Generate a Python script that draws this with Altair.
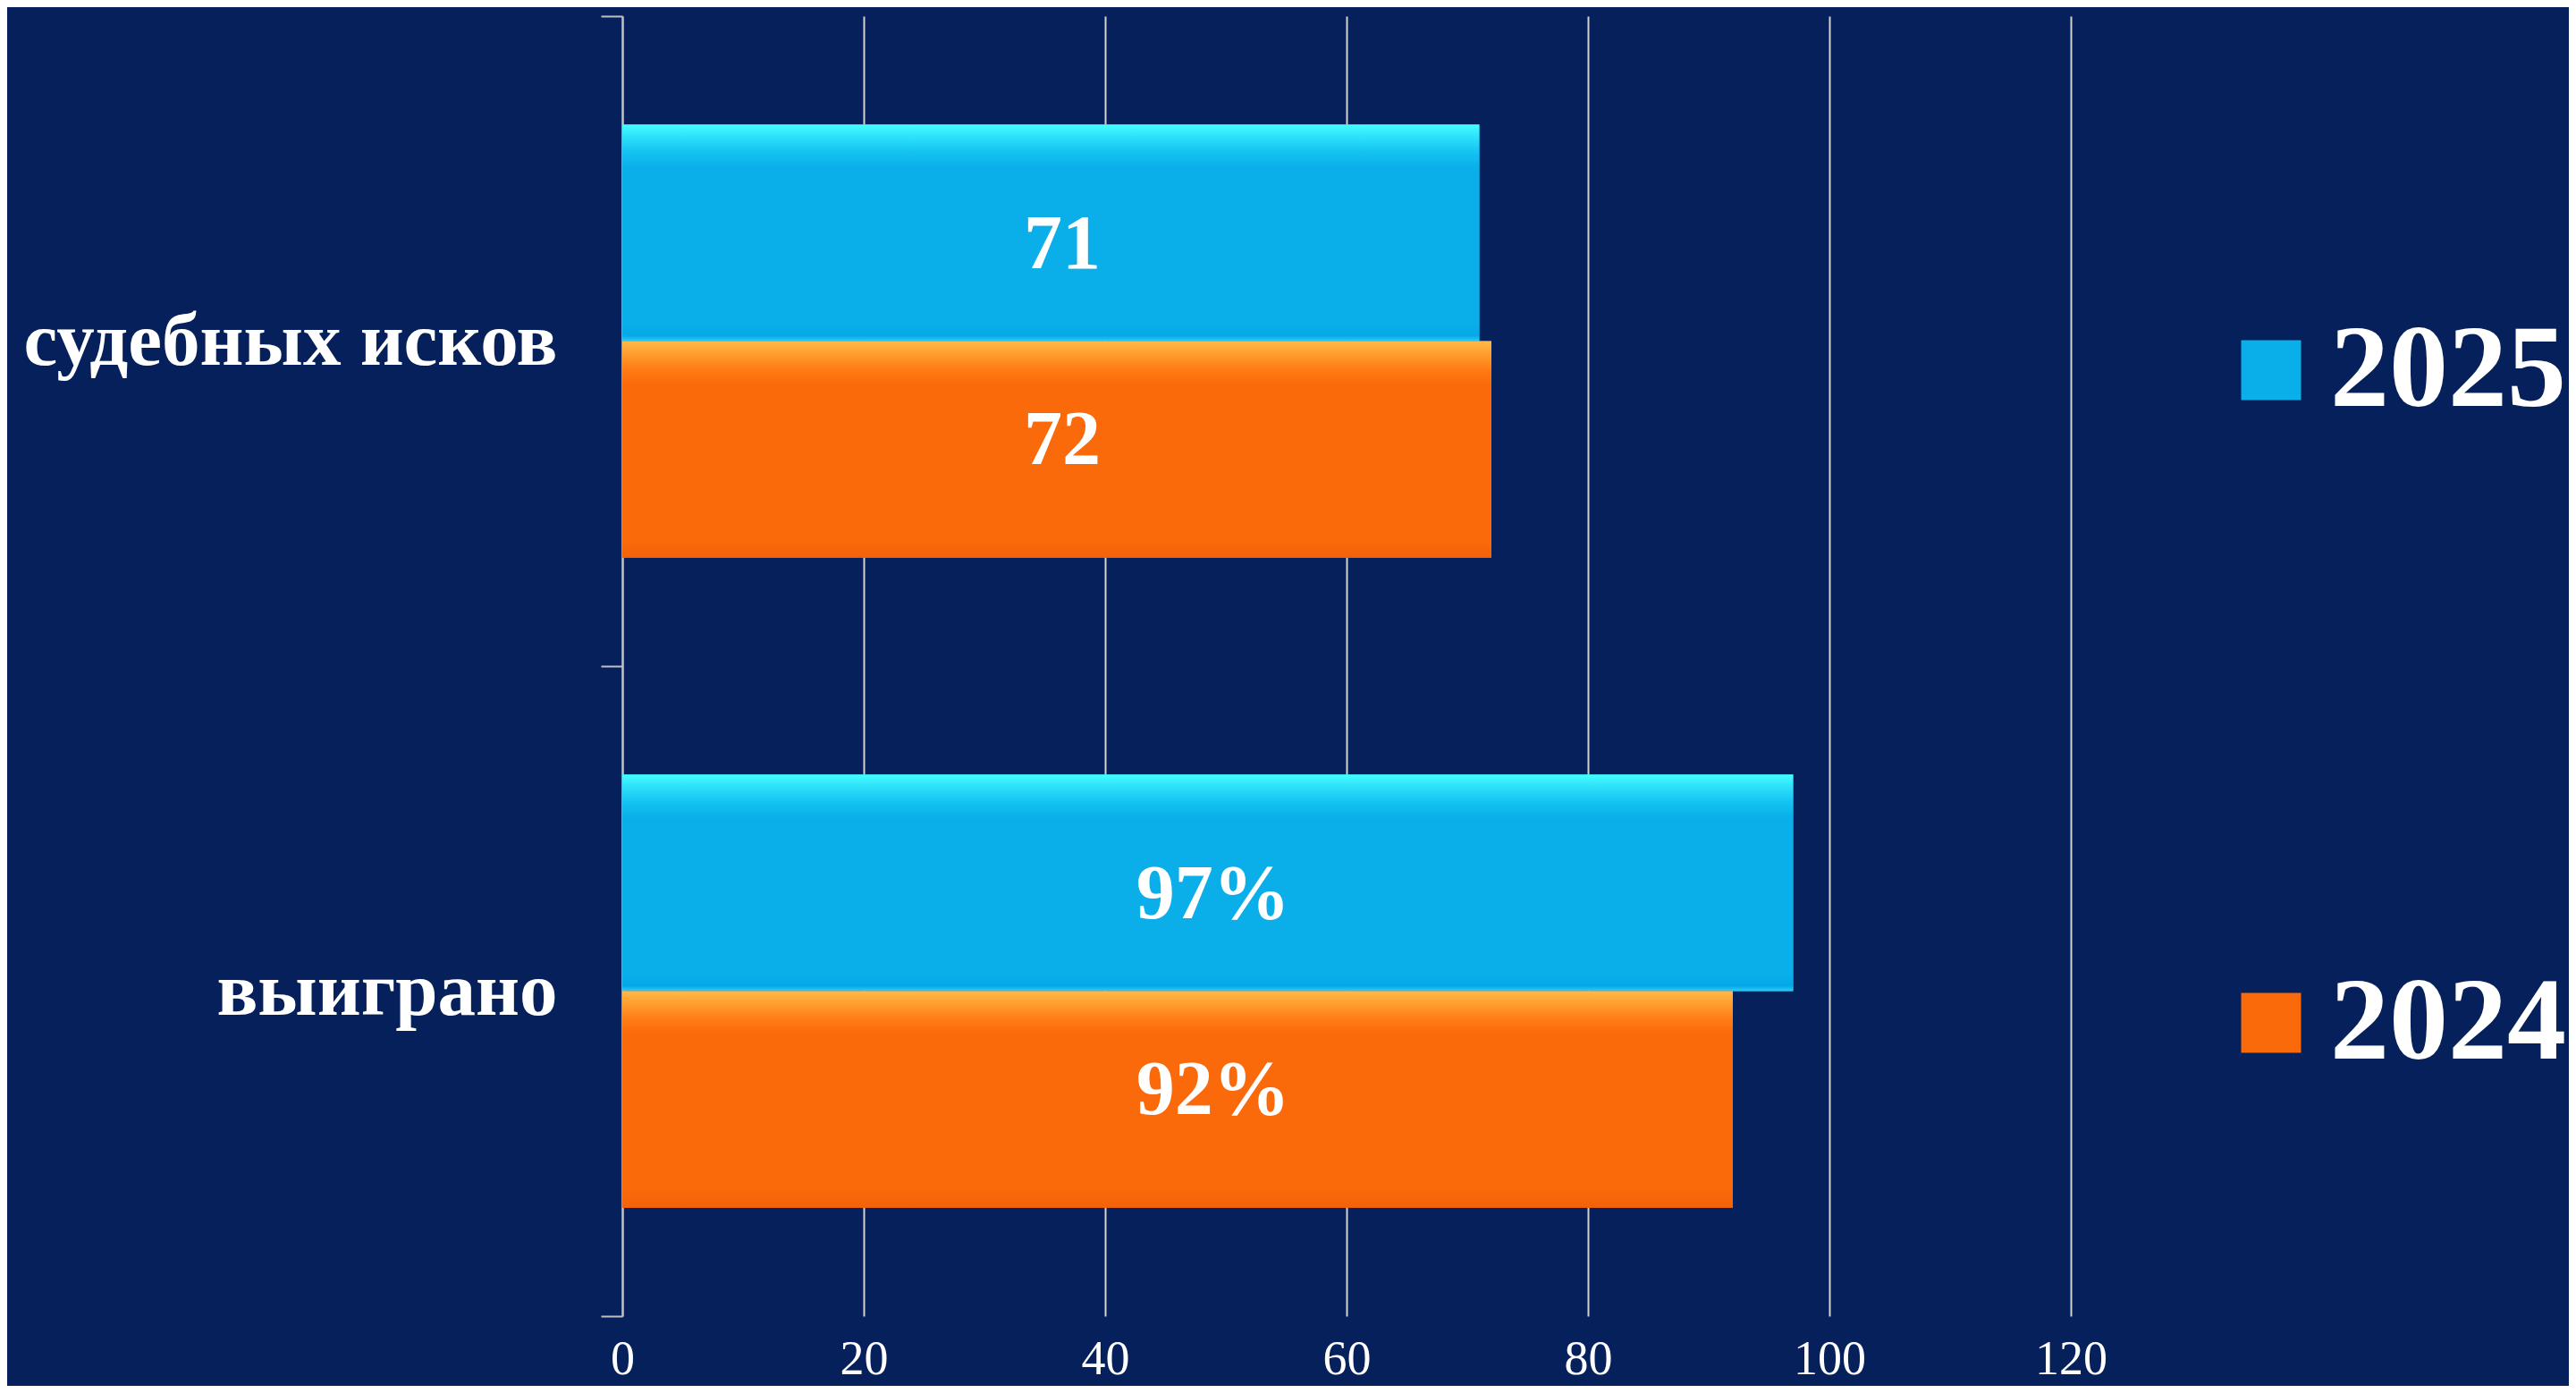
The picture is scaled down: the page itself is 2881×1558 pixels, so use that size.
import altair as alt
import pandas as pd

# ---- data ----
categories = ["судебных исков", "выиграно"]
years = ["2025", "2024"]
values_2025 = [71, 97]
values_2024 = [72, 92]
labels_2025 = ["71", "97%"]
labels_2024 = ["72", "92%"]
x_ticks = [0, 20, 40, 60, 80, 100, 120]

rows = []
for i, c in enumerate(categories):
    rows.append({"category": c, "year": "2025", "value": values_2025[i], "label": labels_2025[i]})
    rows.append({"category": c, "year": "2024", "value": values_2024[i], "label": labels_2024[i]})
df = pd.DataFrame(rows)

BLUE = "#0AAEE8"
ORANGE = "#FA690A"
FONT = "Liberation Serif"
BG = "#05205a"

grad_blue = {
    "gradient": "linear", "x1": 0, "y1": 0, "x2": 0, "y2": 1,
    "stops": [
        {"offset": 0.0, "color": "#45FFFF"},
        {"offset": 0.05, "color": "#30E4FA"},
        {"offset": 0.13, "color": "#14C2F2"},
        {"offset": 0.2, "color": BLUE},
        {"offset": 0.92, "color": BLUE},
        {"offset": 0.975, "color": "#04A8E8"},
        {"offset": 1.0, "color": "#30CCF6"},
    ],
}
grad_orange = {
    "gradient": "linear", "x1": 0, "y1": 0, "x2": 0, "y2": 1,
    "stops": [
        {"offset": 0.0, "color": "#FFBA4A"},
        {"offset": 0.05, "color": "#FFA232"},
        {"offset": 0.13, "color": "#FF7C14"},
        {"offset": 0.2, "color": ORANGE},
        {"offset": 0.92, "color": ORANGE},
        {"offset": 1.0, "color": "#F26208"},
    ],
}

y_enc = alt.Y(
    "category:N",
    sort=categories,
    scale=alt.Scale(paddingInner=0, paddingOuter=0),
    axis=alt.Axis(
        title=None, tickBand="extent", grid=False,
        labelFont=FONT, labelFontSize=85, labelFontWeight="bold", labelColor="white",
        labelPadding=49, labelLimit=2000,
        tickSize=24, tickColor="#c0c0c0", tickWidth=2,
        domainColor="#c0c0c0", domainWidth=2,
    ),
)
yoff_enc = alt.YOffset("year:N", sort=years, scale=alt.Scale(paddingInner=0, paddingOuter=0.5))
x_enc = alt.X(
    "value:Q",
    scale=alt.Scale(domain=[0, 120], nice=False),
    axis=alt.Axis(
        title=None, values=x_ticks, grid=True, gridColor="#d2d2d2", gridWidth=2,
        domain=False, ticks=False, tickSize=0, labelFlush=False,
        labelFont=FONT, labelFontSize=54, labelColor="white", labelPadding=21,
    ),
)

base = alt.Chart(df)

bars = base.mark_bar().encode(
    x=x_enc,
    y=y_enc,
    yOffset=yoff_enc,
    color=alt.Color(
        "year:N",
        sort=years,
        scale=alt.Scale(domain=years, range=[BLUE, ORANGE]),
        legend=alt.Legend(
            title=None, orient="none", legendX=1778, legendY=330,
            symbolType="square", symbolSize=4489, symbolStrokeWidth=0, symbolOpacity=1,
            labelFont=FONT, labelFontSize=132, labelFontWeight="bold", labelColor="white",
            labelOffset=0, rowPadding=598, padding=0, labelLimit=2000,
        ),
    ),
)

bevel = base.mark_bar().encode(
    x=alt.X("value:Q"),
    y=alt.Y("category:N", sort=categories),
    yOffset=alt.YOffset("year:N", sort=years),
    color=alt.condition("datum.year === '2025'", alt.value(grad_blue), alt.value(grad_orange)),
)


def value_text(year, dy):
    return base.transform_joinaggregate(
        cat_max="max(value)", groupby=["category"]
    ).transform_filter(f"datum.year === '{year}'").transform_calculate(
        mid="datum.cat_max / 2"
    ).mark_text(
        font=FONT, fontSize=86, fontWeight="bold", color="white",
        align="center", baseline="middle", dy=dy, dx=6,
    ).encode(
        x=alt.X("mid:Q"),
        y=alt.Y("category:N", sort=categories),
        yOffset=alt.YOffset("year:N", sort=years),
        text="label:N",
    )


chart = alt.layer(bars, bevel, value_text("2025", 14), value_text("2024", -10)).properties(
    width=1620,
    height=1454,
    autosize=alt.AutoSizeParams(type="none"),
    padding={"left": 688, "top": 10, "right": 557, "bottom": 78},
    background=BG,
).configure_view(strokeWidth=0)

chart.save("out.html", embed_options={"renderer": "svg", "actions": False})
